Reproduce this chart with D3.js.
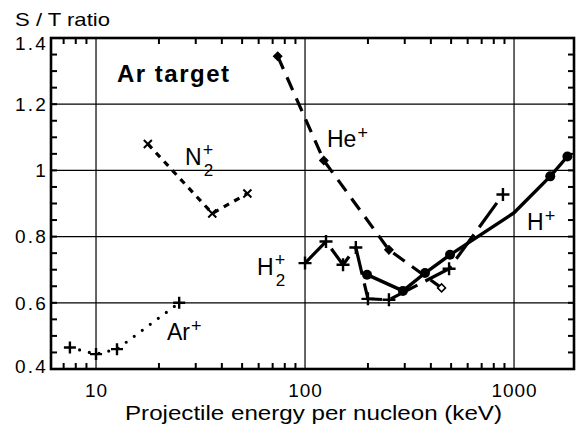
<!DOCTYPE html>
<html>
<head>
<meta charset="utf-8">
<script src="https://cdn.jsdelivr.net/npm/d3@7"></script>
<style>
  body { margin: 0; background: #fff; }
  svg { display: block; }
  text { font-family: "Liberation Sans", Arial, Helvetica, sans-serif; fill: #000; }
</style>
</head>
<body>
<div id="chart"></div>
<script>
// --- data (energy in keV/u, S/T ratio) ---
const arPlusE   = [7.5, 10, 12.6, 25];
const arPlusR   = [0.465, 0.445, 0.46, 0.60];

const n2PlusE   = [17.7, 36, 53];
const n2PlusR   = [1.08, 0.87, 0.93];

const hePlusE   = [74, 123, 252, 450];
const hePlusR   = [1.345, 1.03, 0.76, 0.645];
const hePlusOpen = [false, false, false, true];

const h2PlusE   = [100, 126, 152, 175, 200, 252, 489, 885];
const h2PlusR   = [0.72, 0.785, 0.715, 0.767, 0.612, 0.609, 0.703, 0.927];

const hPlusE    = [198, 294, 375, 494, 1000, 1490, 1800];
const hPlusR    = [0.685, 0.636, 0.69, 0.745, 0.872, 0.982, 1.042];
const hPlusMark = [true, true, true, true, false, true, true];

const yTicks = [0.4, 0.6, 0.8, 1, 1.2, 1.4];
const xTicks = [10, 100, 1000];

const W = 578, H = 430;
const M = { left: 51, right: 4, top: 38, bottom: 61 };

const svg = d3.select('#chart').append('svg')
  .attr('width', W).attr('height', H);

const x = d3.scaleLog().domain([6.09, 1936]).range([M.left, W - M.right]);
const y = d3.scaleLinear().domain([0.4, 1.4]).range([H - M.bottom, M.top]);

const x0 = x.range()[0], x1 = x.range()[1];
const y0 = y.range()[0], y1 = y.range()[1];

// gridlines
const grid = svg.append('g');
grid.selectAll('line.gx').data(xTicks).join('line')
  .attr('x1', d => x(d)).attr('x2', d => x(d))
  .attr('y1', y0).attr('y2', y1)
  .attr('stroke', '#000').attr('stroke-width', 1.2);
grid.selectAll('line.gy').data(yTicks.slice(1, -1)).join('line')
  .attr('x1', x0).attr('x2', x1)
  .attr('y1', d => y(d)).attr('y2', d => y(d))
  .attr('stroke', '#000').attr('stroke-width', 1.2);

// minor ticks, all pointing inward
const minorX = [];
[1, 10, 100, 1000].forEach(dec => {
  for (let k = 2; k <= 9; k++) {
    const v = dec * k;
    if (v >= x.domain()[0] && v <= x.domain()[1]) minorX.push(v);
  }
});
const minorY = d3.range(0.4, 1.401, 0.05);
const tickLen = 6;
const ticks = svg.append('g').attr('stroke', '#000').attr('stroke-width', 2);
ticks.selectAll('line.bx').data(minorX).join('line')
  .attr('x1', d => x(d)).attr('x2', d => x(d)).attr('y1', y0).attr('y2', y0 - tickLen);
ticks.selectAll('line.tx').data(minorX).join('line')
  .attr('x1', d => x(d)).attr('x2', d => x(d)).attr('y1', y1).attr('y2', y1 + tickLen);
ticks.selectAll('line.ly').data(minorY).join('line')
  .attr('x1', x0).attr('x2', x0 + tickLen).attr('y1', d => y(d)).attr('y2', d => y(d));
ticks.selectAll('line.ry').data(minorY).join('line')
  .attr('x1', x1).attr('x2', x1 - tickLen).attr('y1', d => y(d)).attr('y2', d => y(d));

// frame
svg.append('rect')
  .attr('x', x0).attr('y', y1).attr('width', x1 - x0).attr('height', y0 - y1)
  .attr('fill', 'none').attr('stroke', '#000').attr('stroke-width', 2.6);

// tick labels
svg.append('g').selectAll('text').data(yTicks).join('text')
  .attr('x', x0 - 3).attr('y', d => y(d))
  .attr('dy', d => d === 1.4 ? '0.62em' : d === 0.4 ? '0.2em' : '0.36em')
  .attr('text-anchor', 'end').attr('font-size', 19).attr('letter-spacing', 2.2)
  .text(d => d === 1 ? '1' : d3.format('.1f')(d));
svg.append('g').selectAll('text').data(xTicks).join('text')
  .attr('x', d => x(d) + 0.5).attr('y', y0 + 28)
  .attr('text-anchor', 'middle').attr('font-size', 19).attr('letter-spacing', 1)
  .text(d => d);

svg.append('text').attr('x', 15).attr('y', 26).attr('font-size', 19)
  .attr('textLength', 95).attr('lengthAdjust', 'spacingAndGlyphs').text('S / T ratio');
svg.append('text').attr('x', 125).attr('y', 420).attr('font-size', 20)
  .attr('textLength', 377).attr('lengthAdjust', 'spacingAndGlyphs')
  .text('Projectile energy per nucleon (keV)');

// series
const pts = (E, R) => E.map((e, i) => [e, R[i]]);
const line = d3.line().x(d => x(d[0])).y(d => y(d[1]));
const plot = svg.append('g');

plot.append('path').datum(pts(arPlusE, arPlusR)).attr('d', line)
  .attr('fill', 'none').attr('stroke', '#000').attr('stroke-width', 3.2)
  .attr('stroke-linecap', 'round').attr('stroke-dasharray', '0,10');

plot.append('path').datum(pts(n2PlusE, n2PlusR)).attr('d', line)
  .attr('fill', 'none').attr('stroke', '#000').attr('stroke-width', 3.2)
  .attr('stroke-dasharray', '6,6');

plot.append('path').datum(pts(hePlusE, hePlusR)).attr('d', line)
  .attr('fill', 'none').attr('stroke', '#000').attr('stroke-width', 3.2)
  .attr('stroke-dasharray', '14,9');

plot.append('path').datum(pts(h2PlusE, h2PlusR)).attr('d', line)
  .attr('fill', 'none').attr('stroke', '#000').attr('stroke-width', 3.2)
  .attr('stroke-dasharray', '30,9');

plot.append('path').datum(pts(hPlusE, hPlusR)).attr('d', line)
  .attr('fill', 'none').attr('stroke', '#000').attr('stroke-width', 3.4)
  .attr('stroke-linejoin', 'round');

// markers
const plus = (g, E, R, s) => g.selectAll(null).data(pts(E, R)).join('path')
  .attr('d', d => `M${x(d[0]) - s},${y(d[1])}h${2 * s}M${x(d[0])},${y(d[1]) - s}v${2 * s}`)
  .attr('stroke', '#000').attr('stroke-width', 2.4);
plus(plot.append('g'), arPlusE, arPlusR, 6);
plus(plot.append('g'), h2PlusE, h2PlusR, 6.5);

plot.append('g').selectAll('path').data(pts(n2PlusE, n2PlusR)).join('path')
  .attr('d', d => { const cx = x(d[0]), cy = y(d[1]), s = 4;
    return `M${cx - s},${cy - s}L${cx + s},${cy + s}M${cx - s},${cy + s}L${cx + s},${cy - s}`; })
  .attr('stroke', '#000').attr('stroke-width', 2);

plot.append('g').selectAll('path').data(pts(hePlusE, hePlusR)).join('path')
  .attr('d', d => { const cx = x(d[0]), cy = y(d[1]), s = 4;
    return `M${cx},${cy - s}L${cx + s},${cy}L${cx},${cy + s}L${cx - s},${cy}Z`; })
  .attr('fill', (d, i) => hePlusOpen[i] ? '#fff' : '#000')
  .attr('stroke', '#000').attr('stroke-width', 1.5);

plot.append('g').selectAll('circle').data(pts(hPlusE, hPlusR).filter((d, i) => hPlusMark[i])).join('circle')
  .attr('cx', d => x(d[0])).attr('cy', d => y(d[1])).attr('r', 5).attr('fill', '#000');

// labels
svg.append('text').attr('x', 117).attr('y', 82).attr('font-size', 24)
  .attr('font-weight', 'bold').attr('textLength', 112).attr('lengthAdjust', 'spacing')
  .text('Ar target');

function ionLabel(x, yb, base, sub) {
  const g = svg.append('g');
  const t = g.append('text').attr('x', x).attr('y', yb).attr('font-size', 23).text(base);
  const w = t.node().getComputedTextLength();
  g.append('text').attr('x', x + w + 1).attr('y', yb - (sub ? 9 : 8)).attr('font-size', 18).text('+');
  if (sub) g.append('text').attr('x', x + w + 2).attr('y', yb + 11).attr('font-size', 17).text(sub);
}
ionLabel(185, 165, 'N', '2');
ionLabel(327, 147, 'He');
ionLabel(257, 275, 'H', '2');
ionLabel(167, 340, 'Ar');
ionLabel(527, 230, 'H');
</script>
</body>
</html>
